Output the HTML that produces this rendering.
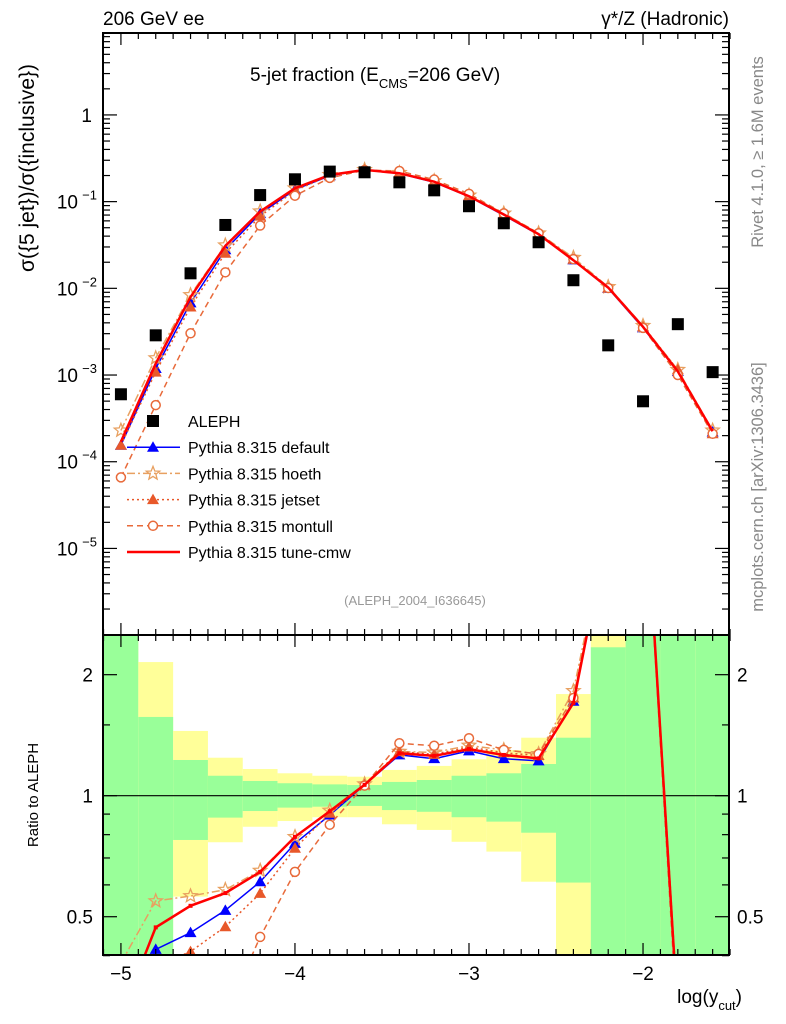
<!DOCTYPE html>
<html><head><meta charset="utf-8"><style>
html,body{margin:0;padding:0;background:#fff;width:786px;height:1024px;overflow:hidden;}
svg{display:block;font-family:"Liberation Sans",sans-serif;}
</style></head><body>
<svg id="chart" width="786" height="1024" viewBox="0 0 786 1024" xmlns="http://www.w3.org/2000/svg">
<defs>
<clipPath id="clipMain"><rect x="103" y="33" width="626" height="602"/></clipPath>
<clipPath id="clipRatio"><rect x="103" y="635" width="626" height="320"/></clipPath>
</defs>
<g id="bands" clip-path="url(#clipRatio)"></g>
<g id="ratioLines" clip-path="url(#clipRatio)"></g>
<g id="mainMarks" clip-path="url(#clipMain)"></g>
<g id="axes"></g>
<text x="103" y="25" font-size="19">206 GeV ee</text>
<text x="729" y="25" font-size="19" text-anchor="end">γ*/Z (Hadronic)</text>
<text x="250" y="81" font-size="19">5-jet fraction (E<tspan font-size="13" dy="7">CMS</tspan><tspan dy="-7">=206 GeV)</tspan></text>
<text transform="translate(34,168) rotate(-90)" font-size="21" text-anchor="middle">σ({5 jet})/σ({inclusive})</text>
<text transform="translate(38,795) rotate(-90)" font-size="15" text-anchor="middle">Ratio to ALEPH</text>
<text transform="translate(763,152) rotate(-90)" font-size="16.5" fill="#888" text-anchor="middle">Rivet 4.1.0, ≥ 1.6M events</text>
<text transform="translate(763,487) rotate(-90)" font-size="16.5" fill="#888" text-anchor="middle">mcplots.cern.ch [arXiv:1306.3436]</text>
<text x="415" y="605" font-size="13" fill="#999" text-anchor="middle">(ALEPH_2004_I636645)</text>
<text x="742" y="1003" font-size="19" text-anchor="end">log(y<tspan font-size="13" dy="7">cut</tspan><tspan dy="-7">)</tspan></text>
<g id="legend"></g>
</svg>
<script>
const xVals=[-5,-4.8,-4.6,-4.4,-4.2,-4.0,-3.8,-3.6,-3.4,-3.2,-3.0,-2.8,-2.6,-2.4,-2.2,-2.0,-1.8,-1.6];
const aleph=[6.0e-4,2.87e-3,0.0149,0.0538,0.119,0.181,0.222,0.218,0.167,0.135,0.0885,0.0563,0.034,0.0124,0.0022,4.98e-4,3.86e-3,1.08e-3];
const mcDefault=[1.55e-4,1.19e-3,6.8e-3,0.0279,0.0727,0.1377,0.1987,0.232,0.211,0.1669,0.1144,0.0696,0.0415,0.0213,0.0100,3.5e-3,1.1e-3,2.2e-4];
const mcHoeth=[2.3e-4,1.57e-3,8.39e-3,0.0314,0.0775,0.143,0.204,0.233,0.215,0.173,0.118,0.0732,0.0432,0.0226,0.0104,3.7e-3,1.15e-3,2.3e-4];
const mcJetset=[1.55e-4,1.08e-3,6.1e-3,0.0254,0.068,0.134,0.2007,0.232,0.215,0.171,0.117,0.072,0.0428,0.0217,0.0101,3.6e-3,1.15e-3,2.1e-4];
const mcMontull=[6.6e-5,4.5e-4,3.03e-3,0.0153,0.053,0.117,0.188,0.231,0.2255,0.1797,0.123,0.0732,0.0432,0.0217,0.0101,3.5e-3,1.0e-3,2.1e-4];
const mcCmw=[1.7e-4,1.35e-3,7.93e-3,0.0308,0.0769,0.143,0.203,0.232,0.213,0.1696,0.1156,0.0711,0.0421,0.0211,0.0102,3.6e-3,1.1e-3,2.25e-4];
const greenLo=[0.3,0.3,0.776,0.882,0.916,0.934,0.939,0.943,0.921,0.912,0.884,0.862,0.809,0.608,0.3,0.3,0.3,0.3];
const greenHi=[3,1.57,1.227,1.121,1.088,1.074,1.067,1.063,1.082,1.094,1.121,1.137,1.199,1.394,2.34,3,3,3];
const yellowLo=[0.3,0.3,0.561,0.766,0.837,0.865,0.884,0.884,0.849,0.822,0.768,0.726,0.611,0.3,0.3,0.3,0.3,0.3];
const yellowHi=[3,2.15,1.449,1.243,1.165,1.137,1.121,1.115,1.159,1.186,1.232,1.299,1.394,1.79,3,3,3,3];
const xTickLabels=[-5,-4,-3,-2];
const mainTickExps=[0,-1,-2,-3,-4,-5];
const ratioTickLabels=[0.5,1,2];

const NS="http://www.w3.org/2000/svg";
const L=103,R=729,MT=33,MB=635,RB=955;
const xMin=-5.103,xMax=-1.506,yLogMax=0.945,pxDec=86.7;
function X(v){return L+(v-xMin)/(xMax-xMin)*(R-L);}
function Ym(v){return MT+(yLogMax-Math.log10(v))*pxDec;}
function Yr(r){return 795.7-Math.log10(r)*402;}
function mk(tag,attrs,parent){const e=document.createElementNS(NS,tag);for(const k in attrs)e.setAttribute(k,attrs[k]);parent.appendChild(e);return e;}

const bands=document.getElementById('bands');
for(let i=0;i<xVals.length;i++){
  const x0=X(xVals[i]-0.1),x1=X(xVals[i]+0.1);
  let r=mk('rect',{x:x0,y:Yr(yellowHi[i]),width:x1-x0,height:Yr(yellowLo[i])-Yr(yellowHi[i]),fill:'#ffff99'},bands);
  
  
  r=mk('rect',{x:x0,y:Yr(greenHi[i]),width:x1-x0,height:Yr(greenLo[i])-Yr(greenHi[i]),fill:'#99ff99'},bands);
  
  
}
const one=mk('line',{x1:L,x2:R,y1:Yr(1),y2:Yr(1),stroke:'#000','stroke-width':1.2},bands);



function marker(type,x,y,color,parent,s){
  let e;
  if(type==='square'){e=mk('rect',{x:x-6,y:y-6,width:12,height:12,fill:color},parent);}
  else if(type==='tri'){e=mk('polygon',{points:`${x},${y-6*s} ${x-6*s},${y+4.5*s} ${x+6*s},${y+4.5*s}`,fill:color},parent);}
  else if(type==='circle'){e=mk('circle',{cx:x,cy:y,r:4.5*s,fill:'#fff',stroke:color,'stroke-width':1.5},parent);}
  else if(type==='star'){let p=[];for(let k=0;k<10;k++){const a=-Math.PI/2+k*Math.PI/5;const rr=(k%2?3:7)*s;p.push((x+rr*Math.cos(a)).toFixed(1)+','+(y+rr*Math.sin(a)).toFixed(1));}
    e=mk('polygon',{points:p.join(' '),fill:'none',stroke:color,'stroke-width':1.3},parent);}
  return e;
}
const series=[
 {name:'default',vals:mcDefault,color:'#0000ff',dash:'',w:1.5,m:'tri'},
 {name:'hoeth',vals:mcHoeth,color:'#e8a060',dash:'8,3,2,3',w:1.5,m:'star'},
 {name:'jetset',vals:mcJetset,color:'#e8582a',dash:'2,3',w:1.5,m:'tri'},
 {name:'montull',vals:mcMontull,color:'#e86a3a',dash:'6,4',w:1.5,m:'circle'},
 {name:'tune-cmw',vals:mcCmw,color:'#ff0000',dash:'',w:2.5,m:null}
];
const main=document.getElementById('mainMarks');
const rl=document.getElementById('ratioLines');
series.forEach(s=>{
  const pm=xVals.map((x,i)=>X(x).toFixed(1)+','+Ym(s.vals[i]).toFixed(1)).join(' ');
  const pl=mk('polyline',{points:pm,fill:'none',stroke:s.color,'stroke-width':s.w,'stroke-dasharray':s.dash},main);
  
  
  const pr=xVals.map((x,i)=>X(x).toFixed(1)+','+Yr(s.vals[i]/aleph[i]).toFixed(1)).join(' ');
  const pl2=mk('polyline',{points:pr,fill:'none',stroke:s.color,'stroke-width':s.w,'stroke-dasharray':s.dash},rl);
  
  
  if(s.m){xVals.forEach((x,i)=>{
    const m1=marker(s.m,X(x),Ym(s.vals[i]),s.color,main,1);
    
    
    const m2=marker(s.m,X(x),Yr(s.vals[i]/aleph[i]),s.color,rl,1);
    
    
  });}
  if(s.name==='tune-cmw'){xVals.forEach((x,i)=>{
    const d=mk('rect',{x:X(x)-2,y:Yr(s.vals[i]/aleph[i])-2,width:4,height:4,fill:s.color},rl);
    
    
  });}
});
xVals.forEach((x,i)=>{
  const sq=marker('square',X(x),Ym(aleph[i]),'#000',main,1);
  
  
});

const ax=document.getElementById('axes');
const fr1=mk('rect',{x:L,y:MT,width:R-L,height:MB-MT,fill:'none',stroke:'#000','stroke-width':2},ax);


const fr2=mk('rect',{x:L,y:MB,width:R-L,height:RB-MB,fill:'none',stroke:'#000','stroke-width':2},ax);


function tick(x1,y1,x2,y2){const t=mk('line',{x1,y1,x2,y2,stroke:'#000','stroke-width':1.2},ax);}
for(let k=-51;k<=-15;k++){
  const v=k/10,x=X(v),maj=(k%10===0),len=maj?12:6;
  tick(x,MT,x,MT+len);tick(x,MB,x,MB-len);tick(x,MB,x,MB+len);tick(x,RB,x,RB-len);
}
xTickLabels.forEach(v=>{const t=mk('text',{x:X(v),y:980,'font-size':19,'text-anchor':'middle'},ax);t.textContent='−'+Math.abs(v);
  });
for(let e=-6;e<=0;e++){for(let m=1;m<10;m++){const v=m*Math.pow(10,e);const y=Ym(v);if(y<MT||y>MB)continue;const len=m===1?14:7;tick(L,y,L+len,y);tick(R,y,R-len,y);}}
mainTickExps.forEach(e=>{const y=Ym(Math.pow(10,e))+7;
  const t=mk('text',{x:e===0?92:78,y:y,'font-size':19,'text-anchor':'end'},ax);
  
  if(e===0){t.textContent='1';}else{t.textContent='10';const sp=mk('tspan',{x:97,dy:-9,'font-size':13,'text-anchor':'end'},t);sp.textContent='−'+Math.abs(e);}
});
[0.4,0.5,0.6,0.7,0.8,0.9,1,2].forEach(r=>{const y=Yr(r);const maj=(r===0.5||r===1||r===2);const len=maj?14:7;tick(L,y,L+len,y);tick(R,y,R-len,y);});
tick(L,Yr(1.5),L+7,Yr(1.5));tick(R,Yr(1.5),R-7,Yr(1.5));
ratioTickLabels.forEach(r=>{const y=Yr(r)+7;
  const t=mk('text',{x:93,y:y,'font-size':19,'text-anchor':'end'},ax);t.textContent=String(r);
  
  const t2=mk('text',{x:737,y:y,'font-size':19},ax);t2.textContent=String(r);
  
});

const lg=document.getElementById('legend');
const legItems=[
 {label:'ALEPH',m:'square',color:'#000',dash:null,w:0},
 {label:'Pythia 8.315 default',m:'tri',color:'#0000ff',dash:'',w:1.5},
 {label:'Pythia 8.315 hoeth',m:'star',color:'#e8a060',dash:'8,3,2,3',w:1.5},
 {label:'Pythia 8.315 jetset',m:'tri',color:'#e8582a',dash:'2,3',w:1.5},
 {label:'Pythia 8.315 montull',m:'circle',color:'#e86a3a',dash:'6,4',w:1.5},
 {label:'Pythia 8.315 tune-cmw',m:null,color:'#ff0000',dash:'',w:2.5}
];
legItems.forEach((it,i)=>{
  const y=421+i*26.2;
  const g=mk('g',{},lg);
  
  
  if(it.dash!==null){mk('line',{x1:127,x2:180,y1:y,y2:y,stroke:it.color,'stroke-width':it.w,'stroke-dasharray':it.dash},g);}
  if(it.m){marker(it.m,153,y,it.color,g,1);}
  const t=mk('text',{x:188,y:y+6,'font-size':16},g);t.textContent=it.label;
});
</script>
</body></html>
